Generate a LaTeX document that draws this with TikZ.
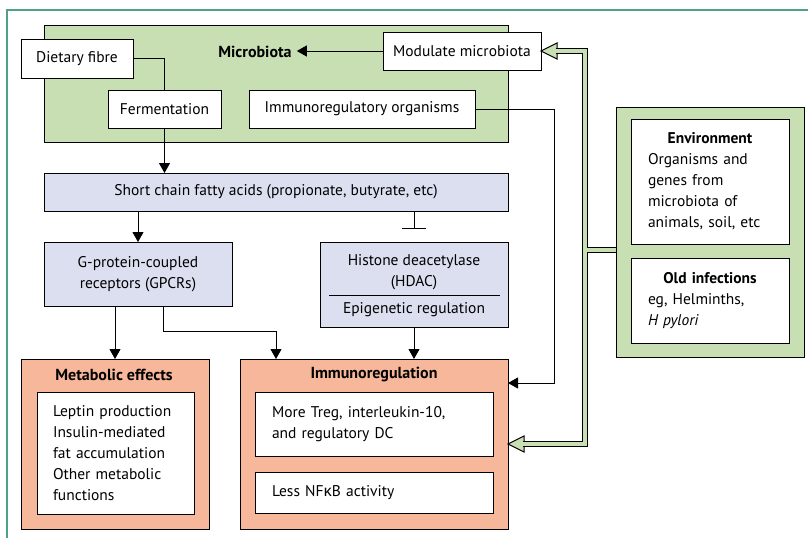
\documentclass[tikz,border=0pt]{standalone}
\usepackage{fontspec}
\setmainfont{PT Sans}
\newfontfamily\grk{Noto Sans}
\usetikzlibrary{arrows.meta}
\definecolor{mgreen}{HTML}{C8DFB4}
\definecolor{lav}{HTML}{DCDFF0}
\definecolor{salmon}{HTML}{F7B79B}
\definecolor{framec}{HTML}{4FA383}
\tikzset{
  bx/.style={draw=black, line width=1pt, inner sep=0pt, outer sep=0pt},
  arr/.style={line width=1pt, -{Triangle[width=11pt,length=10pt]}},
  inh/.style={line width=1pt, -{Bar[width=24pt]}},
  conn/.style={line width=1pt},
  ttl/.style={font=\fontsize{16}{21}\selectfont\bfseries, inner sep=0pt},
  gblack/.style={line width=6pt, draw=black},
  ggreen/.style={line width=3.6pt, draw=mgreen},
  ghead/.style={fill=mgreen, draw=black, line width=1pt, line join=miter},
}
\begin{document}
\begin{tikzpicture}[x=1pt,y=-1pt, font=\fontsize{15.5}{21}\selectfont]
\useasboundingbox (0,0) rectangle (808,538);
\draw[framec, line width=1.5pt] (7,538) -- (7,10) -- (808,10);

% microbiota block
\node[bx, fill=mgreen, minimum width=464pt, minimum height=117pt] (micro) at (276,83.5) {};
\node[ttl, inner xsep=5pt] (microlbl) at (255,52) {Microbiota};
\node[bx, fill=white, minimum width=112pt, minimum height=39pt] (diet) at (77,58.5) {Dietary fibre};
\node[bx, fill=white, minimum width=113pt, minimum height=38pt] (ferm) at (164.5,109) {Fermentation};
\node[bx, fill=white, minimum width=226pt, minimum height=38pt] (immorg) at (362,109) {Immunoregulatory organisms};
\node[bx, fill=white, minimum width=158pt, minimum height=38pt] (modul) at (462,51) {Modulate microbiota};

% SCFA
\node[bx, fill=lav, minimum width=464pt, minimum height=38pt] (scfa) at (276,192) {Short chain fatty acids (propionate, butyrate, etc)};
\node[bx, fill=lav, minimum width=188pt, minimum height=64pt, align=center] (gpcr) at (138,274) {G-protein-coupled\\receptors (GPCRs)};
\node[bx, fill=lav, minimum width=188pt, minimum height=85pt] (hdac) at (414,284.5) {};
\node[align=center, inner sep=0pt] (hdactxt) at (414,272.5) {Histone deacetylase\\(HDAC)};
\node[inner sep=0pt] (epi) at (414,310) {Epigenetic regulation};
\draw[conn] ([xshift=-85pt,yshift=-10.5pt]hdac.center) -- ([xshift=86pt,yshift=-10.5pt]hdac.center);

% outcome boxes
\node[bx, fill=salmon, minimum width=188pt, minimum height=170pt] (metab) at (115,444) {};
\node[ttl] (metabt) at (114,375) {Metabolic effects};
\node[bx, fill=white, minimum width=157pt, minimum height=122pt, text width=125pt, align=left] (metabin) at (115.5,453)
  {Leptin production\\Insulin-mediated\\fat accumulation\\Other metabolic\\functions};
\node[bx, fill=salmon, minimum width=268pt, minimum height=170pt] (immreg) at (374,444) {};
\node[ttl] (immregt) at (374,375) {Immunoregulation};
\node[bx, fill=white, minimum width=238pt, minimum height=64pt, text width=204pt, align=left] (imm1) at (374,424)
  {More Treg, interleukin-10,\\and regulatory DC};
\node[bx, fill=white, minimum width=238pt, minimum height=41pt, text width=204pt, align=left] (imm2) at (374,492.5)
  {Less NF{\grk κ}B activity};

% connectors
\draw[arr] (modul.west) -- (modul.west -| microlbl.east);
\draw[conn] (diet.east) -| (ferm.north);
\draw[arr] (ferm.south) -- (ferm.south |- scfa.north);
\draw[arr] (gpcr.north |- scfa.south) -- (gpcr.north);
\draw[inh, shorten >=13pt] (hdac.north |- scfa.south) -- (hdac.north);
\draw[arr] (metab.north |- gpcr.south) -- (metab.north);
\draw[arr] ([xshift=25pt]gpcr.south) -- ++(0,25) -| ([xshift=-98pt]immreg.north);
\draw[arr] (hdac.south) -- (hdac.south |- immreg.north);
\draw[arr] (immorg.east) -- ++(79,0) |- ([yshift=61pt]immreg.east);

% right panel double arrows
\coordinate (gx) at (585,0);
\draw[ghead] (modul.east) -- ++(16,-8) -- ++(0,16) -- cycle;
\draw[ghead] (immreg.east) -- ++(16,-8) -- ++(0,16) -- cycle;
\node[bx, fill=mgreen, minimum width=188pt, minimum height=250pt] (rp) at (710,232) {};
\draw[gblack] ([xshift=15pt]modul.east) -- (modul.east -| gx) -- (immreg.east -| gx) -- ([xshift=15pt]immreg.east);
\draw[gblack] ([yshift=-18pt]rp.west -| gx) -- ([yshift=-18pt]rp.west);
\draw[ggreen] ([xshift=14pt]modul.east) -- (modul.east -| gx) -- (immreg.east -| gx) -- ([xshift=14pt]immreg.east);
\draw[ggreen] ([yshift=-18pt]rp.west -| gx) -- ([yshift=-18pt]rp.west);
\draw[line width=1pt] (rp.north west) rectangle (rp.south east);

\node[bx, fill=white, minimum width=158pt, minimum height=125pt, text width=124pt, align=left] (env) at (710,181.5)
  {{\centering\bfseries Environment\par}Organisms and\\genes from\\microbiota of\\animals, soil, etc};
\node[bx, fill=white, minimum width=158pt, minimum height=85pt, text width=124pt, align=left] (old) at (710,300.5)
  {{\centering\bfseries Old infections\par}eg, Helminths,\\\textit{H pylori}};
\end{tikzpicture}
\end{document}
